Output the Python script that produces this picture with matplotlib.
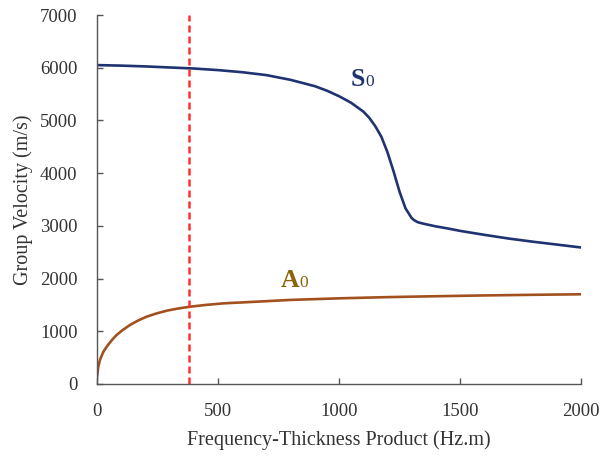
import matplotlib
matplotlib.use('Agg')
import matplotlib.pyplot as plt
import numpy as np

# S0 mode
s0_fd = [0, 100, 200, 300, 400, 500, 600, 700, 800, 850, 900, 950, 1000,
         1050, 1100, 1125, 1150, 1175, 1200, 1225, 1250, 1275, 1300, 1310,
         1325, 1350, 1400, 1450, 1500, 1600, 1700, 1800, 1900, 2000]
s0_vel = [6050, 6040, 6025, 6005, 5985, 5955, 5915, 5860, 5770, 5710, 5650,
          5565, 5460, 5335, 5170, 5050, 4890, 4690, 4400, 4040, 3650, 3330,
          3150, 3110, 3070, 3040, 2990, 2950, 2905, 2830, 2760, 2700, 2645,
          2590]

# A0 mode
a0_fd = [0, 5, 12, 25, 40, 60, 81, 105, 136, 170, 205, 245, 288, 335, 384,
         450, 522, 632, 800, 1000, 1200, 1400, 1600, 1800, 2000]
a0_vel = [130, 320, 455, 600, 708, 825, 930, 1020, 1119, 1205, 1277, 1337,
          1391, 1432, 1466, 1500, 1530, 1555, 1595, 1625, 1648, 1665, 1680,
          1692, 1702]

cutoff_fd = 380

x_ticks = [0, 500, 1000, 1500, 2000]
y_ticks = [0, 1000, 2000, 3000, 4000, 5000, 6000, 7000]

plt.rcParams['font.family'] = ['Liberation Serif', 'DejaVu Serif']

fig = plt.figure(figsize=(6.11, 4.58), dpi=100)
ax = fig.add_axes([0.1588, 0.1616, 0.7921, 0.8056])

ax.plot(s0_fd, s0_vel, color='#1f3370', lw=1.9, solid_joinstyle='round')
ax.plot(a0_fd, a0_vel, color='#a3501f', lw=1.9, solid_joinstyle='round')
ax.axvline(cutoff_fd, color='#ff3030', lw=1.8, ls=(0, (2.8, 1.6)))

# mode labels: big bold letter, small plain digit on the same baseline
ax.text(1107, 5653, 'S', ha='right', va='baseline', fontsize=18.5,
        fontweight='bold', color='#1f3370')
ax.text(1107, 5653, '0', ha='left', va='baseline', fontsize=12.5,
        color='#1f3370')
ax.text(835, 1834, 'A', ha='right', va='baseline', fontsize=18.5,
        fontweight='bold', color='#8a6508')
ax.text(835, 1834, '0', ha='left', va='baseline', fontsize=12.5,
        color='#8a6508')

ax.set_xlim(0, 2000)
ax.set_ylim(0, 7000)
ax.set_xticks(x_ticks)
ax.set_yticks(y_ticks)

for side in ['top', 'right']:
    ax.spines[side].set_visible(False)
for side in ['left', 'bottom']:
    ax.spines[side].set_color('#555555')
    ax.spines[side].set_linewidth(1.0)

ax.tick_params(direction='in', length=4, width=1, color='#555555',
               labelsize=13.5, labelcolor='#333333', pad=14)

ax.set_xlabel('Frequency-Thickness Product (Hz.m)', fontsize=14.5,
              color='#333333', labelpad=7)
ax.set_ylabel('Group Velocity (m/s)', fontsize=14.5, color='#333333',
              labelpad=5)

fig.savefig('out.png', dpi=100)
